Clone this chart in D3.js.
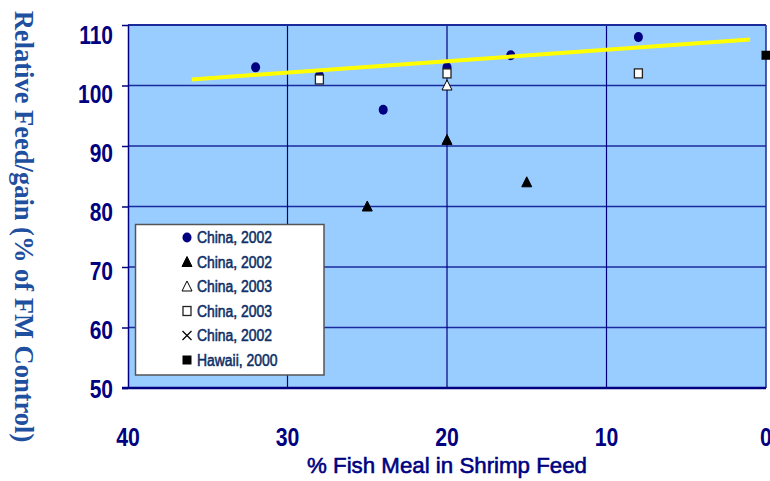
<!DOCTYPE html>
<html><head><meta charset="utf-8">
<script src="https://cdn.jsdelivr.net/npm/d3@7"></script>
<style>html,body{margin:0;padding:0;background:#fff;overflow:hidden}</style>
</head><body>
<svg id="c" width="770" height="481"></svg>
<script>
// ---- data ----
const xTicks = [40, 30, 20, 10, 0];
const yTicks = [50, 60, 70, 80, 90, 100, 110];
const china2002CirclesX = [32, 28, 24, 20, 16, 8];
const china2002CirclesY = [103, 101.6, 96, 103, 105, 108];
const china2002TrianglesX = [25, 20, 15];
const china2002TrianglesY = [80, 91, 84];
const china2003OpenTriX = [20];
const china2003OpenTriY = [100];
const china2003OpenSqX = [28, 20, 8];
const china2003OpenSqY = [101, 102, 102];
const china2002CrossX = [];
const china2002CrossY = [];
const hawaii2000X = [0];
const hawaii2000Y = [105];
const trendX = [36, 1];
const trendY = [101, 107.6];
const legendLabels = ["China, 2002", "China, 2002", "China, 2003", "China, 2003", "China, 2002", "Hawaii, 2000"];
const legendShapes = ["circle", "tri", "otri", "osq", "cross", "sq"];

const zip = (xs, ys) => xs.map((v, i) => ({x: v, y: ys[i]}));

const svg = d3.select("#c");
const x = d3.scaleLinear().domain([40, 0]).range([128, 766]);
const y = d3.scaleLinear().domain([50, 110]).range([388, 25]);
const yLab = d3.scaleLinear().domain([50, 110]).range([389, 34.5]);
const navy = "#000080";

// plot background
svg.append("rect").attr("x", x(40)).attr("y", y(110))
  .attr("width", x(0) - x(40)).attr("height", y(50) - y(110)).attr("fill", "#99CCFF");

// gridlines
svg.append("g").selectAll("line").data(yTicks.filter(d => d > 50 && d < 110)).join("line")
  .attr("x1", x(40)).attr("x2", x(0)).attr("y1", d => y(d)).attr("y2", d => y(d))
  .attr("stroke", "#1a2a9a").attr("stroke-width", 1.4);
svg.append("g").selectAll("line").data(xTicks.filter(d => d > 0 && d < 40)).join("line")
  .attr("y1", y(110)).attr("y2", y(50)).attr("x1", d => x(d)).attr("x2", d => x(d))
  .attr("stroke", navy).attr("stroke-width", 1.2);

// borders
svg.append("line").attr("x1", x(40)).attr("x2", x(0)).attr("y1", y(110)).attr("y2", y(110)).attr("stroke", "#1a2a9a").attr("stroke-width", 2);
svg.append("line").attr("x1", x(0)).attr("x2", x(0)).attr("y1", y(110)).attr("y2", y(50)).attr("stroke", "#1a2a9a").attr("stroke-width", 1.5);

// y axis (ticks only)
const yAxis = svg.append("g").attr("transform", `translate(${x(40)},0)`)
  .call(d3.axisLeft(y).tickValues(yTicks).tickSize(6).tickSizeOuter(0).tickFormat(""));
yAxis.selectAll("line,path").attr("stroke", navy).attr("stroke-width", 1.5);

// x axis line
svg.append("line").attr("x1", x(40) - 6).attr("x2", x(0)).attr("y1", y(50)).attr("y2", y(50))
  .attr("stroke", navy).attr("stroke-width", 2.5);

// y tick labels
svg.append("g").selectAll("text").data(yTicks).join("text")
  .attr("transform", d => `translate(113,${yLab(d)}) scale(0.84,1)`)
  .attr("dy", "0.36em").attr("text-anchor", "end")
  .attr("font-family", "Liberation Sans, Arial, sans-serif").attr("font-weight", "bold")
  .attr("font-size", 25).attr("fill", navy).text(d => d);

// x tick labels
svg.append("g").selectAll("text").data(xTicks).join("text")
  .attr("transform", d => `translate(${x(d)},446) scale(0.85,1)`)
  .attr("text-anchor", "middle")
  .attr("font-family", "Liberation Sans, Arial, sans-serif").attr("font-weight", "bold")
  .attr("font-size", 25).attr("fill", navy).text(d => d);

// axis titles
svg.append("text").attr("transform", "translate(447,472.5) scale(0.97,1)")
  .attr("text-anchor", "middle").attr("font-family", "Liberation Sans, Arial, sans-serif")
  .attr("font-size", 23).attr("fill", navy).attr("stroke", navy).attr("stroke-width", 0.6)
  .text("% Fish Meal in Shrimp Feed");
svg.append("text").attr("transform", "translate(14.5,226.5) rotate(90)")
  .attr("text-anchor", "middle").attr("font-family", "Liberation Serif, Times New Roman, serif")
  .attr("font-weight", "bold").attr("font-size", 26.5).attr("fill", "#1f4f9f")
  .text("Relative Feed/gain (% of FM Control)");

// symbol painter
function drawSym(g, shape, cx, cy) {
  if (shape === "circle") {
    g.append("ellipse").attr("cx", cx).attr("cy", cy).attr("rx", 4.5).attr("ry", 5).attr("fill", navy);
  } else if (shape === "tri" || shape === "otri") {
    g.append("path").attr("d", `M${cx},${cy - 5.5}L${cx + 5},${cy + 4.5}L${cx - 5},${cy + 4.5}Z`)
      .attr("fill", shape === "tri" ? "#000" : "#fff").attr("stroke", "#000").attr("stroke-width", 1);
  } else if (shape === "osq") {
    g.append("rect").attr("x", cx - 4).attr("y", cy - 4.5).attr("width", 8).attr("height", 9)
      .attr("fill", "#fff").attr("stroke", "#222").attr("stroke-width", 1.3);
  } else if (shape === "sq") {
    g.append("rect").attr("x", cx - 4.5).attr("y", cy - 4.5).attr("width", 9).attr("height", 9).attr("fill", "#000");
  } else if (shape === "cross") {
    g.append("path").attr("d", `M${cx - 4.5},${cy - 4.5}L${cx + 4.5},${cy + 4.5}M${cx + 4.5},${cy - 4.5}L${cx - 4.5},${cy + 4.5}`)
      .attr("stroke", "#000").attr("stroke-width", 1.2);
  }
}

const marks = svg.append("g");
zip(china2002CirclesX, china2002CirclesY).forEach(d => drawSym(marks, "circle", x(d.x), y(d.y)));

// trend line
svg.append("path").datum(zip(trendX, trendY))
  .attr("d", d3.line().x(d => x(d.x)).y(d => y(d.y)))
  .attr("stroke", "#FFFF00").attr("stroke-width", 4).attr("fill", "none");

const marks2 = svg.append("g");
zip(china2002TrianglesX, china2002TrianglesY).forEach(d => drawSym(marks2, "tri", x(d.x), y(d.y)));
zip(china2003OpenTriX, china2003OpenTriY).forEach(d => drawSym(marks2, "otri", x(d.x), y(d.y)));
zip(china2003OpenSqX, china2003OpenSqY).forEach(d => drawSym(marks2, "osq", x(d.x), y(d.y)));
zip(china2002CrossX, china2002CrossY).forEach(d => drawSym(marks2, "cross", x(d.x), y(d.y)));
zip(hawaii2000X, hawaii2000Y).forEach(d => drawSym(marks2, "sq", x(d.x), y(d.y)));

// legend
const lg = svg.append("g");
lg.append("rect").attr("x", 135.5).attr("y", 224.5).attr("width", 188.5).attr("height", 150.5)
  .attr("fill", "#fff").attr("stroke", "#555").attr("stroke-width", 1.5);
legendLabels.forEach((lab, i) => {
  const cy = 237.5 + i * 24.5;
  drawSym(lg, legendShapes[i], 187, cy);
  lg.append("text").attr("transform", `translate(197,${cy}) scale(0.87,1)`).attr("dy", "0.36em")
    .attr("font-family", "Liberation Sans, Arial, sans-serif").attr("font-size", 16)
    .attr("fill", "#0d2f66").attr("stroke", "#0d2f66").attr("stroke-width", 0.55).text(lab);
});
</script>
</body></html>
